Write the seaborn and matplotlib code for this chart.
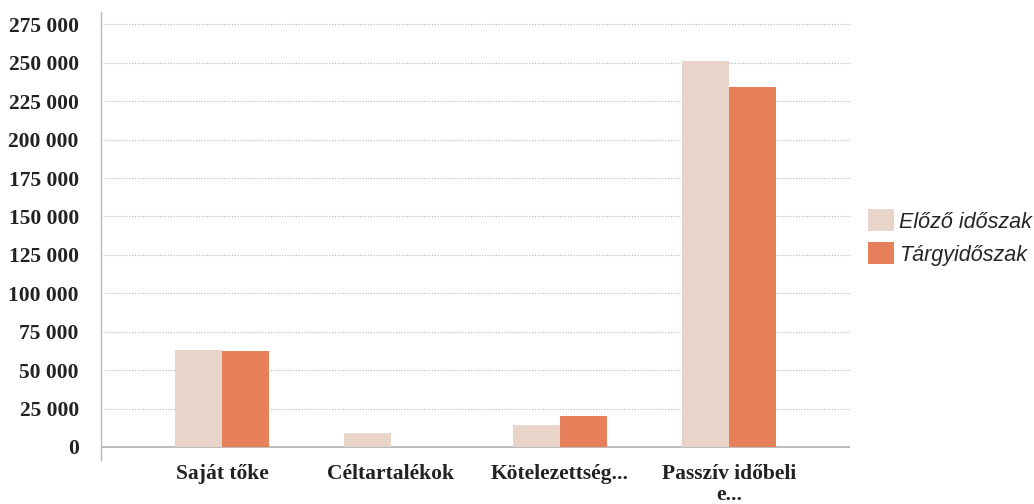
import pandas as pd
import numpy as np
import matplotlib.pyplot as plt
import seaborn as sns
from matplotlib.patches import Patch

# chart data
categories = ["Saját tőke", "Céltartalékok", "Kötelezettség...", "Passzív időbeli\ne..."]
series_names = ["Előző időszak", "Tárgyidőszak"]
elozo = [63000, 9200, 14300, 251000]
targy = [62500, 0, 20200, 234000]
y_ticks = list(range(0, 275001, 25000))
y_tick_labels = [f"{v:,}".replace(",", " ") for v in y_ticks]

colors = ["#E9D4C9", "#E6805A"]

df = pd.DataFrame({
    "kategoria": categories * 2,
    "idoszak": [series_names[0]] * 4 + [series_names[1]] * 4,
    "ertek": elozo + targy,
})

sns.set_style("white")
fig = plt.figure(figsize=(10.34, 5.04), dpi=100)
ax = fig.add_axes([0.0977, 0.0873, 0.822 - 0.0977, 0.976 - 0.0873])

sns.barplot(data=df, x="kategoria", y="ertek", hue="idoszak",
            palette=colors, width=0.56, gap=0, saturation=1,
            linewidth=0, ax=ax, legend=False)

ax.set_xlim(-0.716, 3.716)
ax.set_ylim(-8500, 283000)
ax.set_yticks(y_ticks)
ax.set_yticklabels(y_tick_labels)
ax.set_xlabel("")
ax.set_ylabel("")

# dotted grid, solid baseline
for v in y_ticks[1:]:
    ax.axhline(v, color="#b8b8b8", lw=0.8, ls=(0, (1, 1.5)), zorder=0)
ax.axhline(0, color="#b0b0b0", lw=1.2, zorder=0)

for s in ["top", "right", "bottom"]:
    ax.spines[s].set_visible(False)
ax.spines["left"].set_color("#b8b8b8")
ax.spines["left"].set_linewidth(1.0)

serif = {"family": "Liberation Serif", "weight": "bold", "size": 15.5}
ax.tick_params(axis="y", length=7, color="#c0c0c0", width=0.8, pad=9)
ax.tick_params(axis="x", length=0, pad=3)
for lab in ax.get_yticklabels():
    lab.set_fontproperties(serif)
    lab.set_color("#222222")
for lab in ax.get_xticklabels():
    lab.set_fontproperties(serif)
    lab.set_color("#222222")
    lab.set_multialignment("center")
    lab.set_linespacing(1.05)

handles = [Patch(facecolor=c, edgecolor="none") for c in colors]
fig.legend(handles, series_names, loc="center left",
           bbox_to_anchor=(0.839, 0.529), frameon=False,
           prop={"family": "Liberation Sans", "style": "italic", "size": 15.5},
           handlelength=1.25, handleheight=1.2, handletextpad=0.2,
           labelspacing=0.45, borderpad=0, borderaxespad=0)

fig.savefig("out.png", dpi=100)
